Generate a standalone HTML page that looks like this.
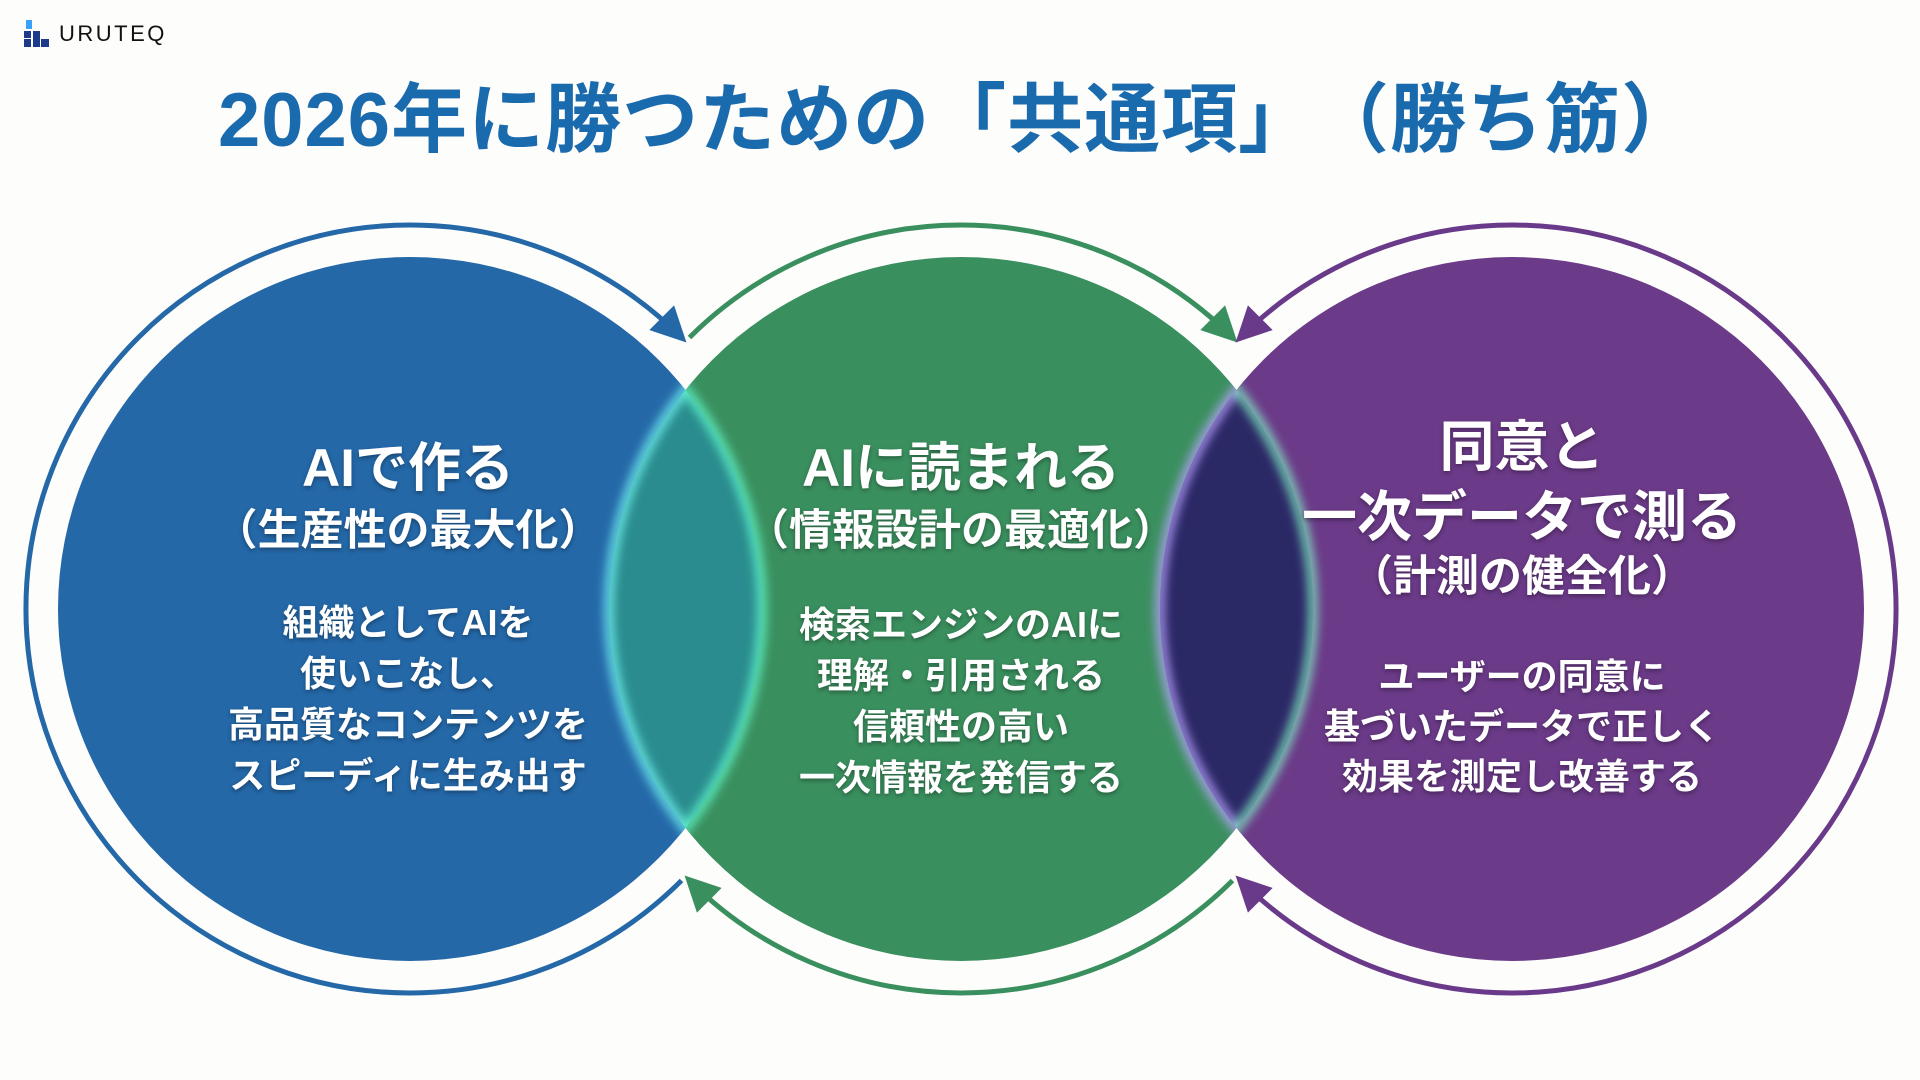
<!DOCTYPE html>
<html><head><meta charset="utf-8">
<style>
html,body{margin:0;padding:0;}
body{width:1920px;height:1080px;position:relative;overflow:hidden;background:#fdfdfc;font-family:"Liberation Sans","Noto Sans CJK JP",sans-serif;}
.t{position:absolute;left:0;width:100%;text-align:center;color:#fff;font-weight:bold;white-space:nowrap;text-shadow:0 2px 4px rgba(0,0,0,0.35);}
.col{position:absolute;top:0;width:600px;}
</style></head><body>
<svg width="1920" height="1080" style="position:absolute;left:0;top:0">
<defs>
<clipPath id="cb"><circle cx="410" cy="609" r="352"/></clipPath>
<clipPath id="cg"><circle cx="961" cy="609" r="352"/></clipPath>
<clipPath id="cp"><circle cx="1512" cy="609" r="352"/></clipPath>
<filter id="bl" x="-20%" y="-20%" width="140%" height="140%"><feGaussianBlur stdDeviation="5"/></filter>
<marker id="ab" viewBox="0 0 10 10" refX="8" refY="5" markerWidth="7" markerHeight="7" orient="auto-start-reverse" markerUnits="strokeWidth"><path d="M0,0 L10,5 L0,10 Z" fill="#2468a8"/></marker>
<marker id="ag" viewBox="0 0 10 10" refX="8" refY="5" markerWidth="7" markerHeight="7" orient="auto-start-reverse" markerUnits="strokeWidth"><path d="M0,0 L10,5 L0,10 Z" fill="#3a8f5e"/></marker>
<marker id="ap" viewBox="0 0 10 10" refX="8" refY="5" markerWidth="7" markerHeight="7" orient="auto-start-reverse" markerUnits="strokeWidth"><path d="M0,0 L10,5 L0,10 Z" fill="#6a3a8a"/></marker>
</defs>
<circle cx="410" cy="609" r="352" fill="#2468a8"/>
<circle cx="961" cy="609" r="352" fill="#3a8f5e"/>
<circle cx="1512" cy="609" r="352" fill="#6b3a88"/>
<g clip-path="url(#cb)"><circle cx="961" cy="609" r="352" fill="#2a8c8e"/>
<circle cx="961" cy="609" r="352" fill="none" stroke="#6ff0f0" stroke-width="8" filter="url(#bl)"/></g>
<g clip-path="url(#cg)"><circle cx="410" cy="609" r="352" fill="none" stroke="#5ff5c8" stroke-width="8" filter="url(#bl)"/></g>
<g clip-path="url(#cg)"><circle cx="1512" cy="609" r="352" fill="#2b2866"/>
<circle cx="1512" cy="609" r="352" fill="none" stroke="#b9a0ff" stroke-width="8" filter="url(#bl)"/></g>
<g clip-path="url(#cp)"><circle cx="961" cy="609" r="352" fill="none" stroke="#7fe8c0" stroke-width="8" filter="url(#bl)"/></g>
<path d="M681.5,880.5 A384,384 0 1 1 681.5,337.5" fill="none" stroke="#2468a8" stroke-width="5" marker-end="url(#ab)"/>
<path d="M689.5,337.5 A384,384 0 0 1 1232.5,337.5" fill="none" stroke="#3a8f5e" stroke-width="5" marker-end="url(#ag)"/>
<path d="M1232.5,880.5 A384,384 0 0 1 689.5,880.5" fill="none" stroke="#3a8f5e" stroke-width="5" marker-end="url(#ag)"/>
<path d="M1240.5,337.5 A384,384 0 1 1 1240.5,880.5" fill="none" stroke="#6a3a8a" stroke-width="5" marker-start="url(#ap)" marker-end="url(#ap)"/>
<rect x="26" y="20" width="6" height="9" fill="#3aa0ff"/>
<rect x="24" y="31" width="7" height="7" fill="#1b3a8c"/>
<rect x="24" y="39" width="7" height="8" fill="#1b3a8c"/>
<rect x="33" y="31" width="7" height="16" fill="#1b3a8c"/>
<rect x="41" y="39" width="8" height="8" fill="#1b3a8c"/>
</svg>
<div style="position:absolute;left:59px;top:21px;font-size:22px;letter-spacing:2.5px;color:#111;">URUTEQ</div>
<div style="position:absolute;left:218px;top:75px;font-size:76px;line-height:1.2;font-weight:bold;color:#1a6aae;white-space:nowrap;letter-spacing:1px;">2026年に勝つための「共通項」<span style="margin-left:36px">（勝ち筋）</span></div>

<div class="col" style="left:108px">
<div class="t" style="top:426px;font-size:53px">AIで作る</div>
<div class="t" style="top:496px;font-size:43px">（生産性の最大化）</div>
<div class="t" style="top:594px;font-size:36px">組織としてAIを</div>
<div class="t" style="top:645px;font-size:36px">使いこなし、</div>
<div class="t" style="top:696px;font-size:36px">高品質なコンテンツを</div>
<div class="t" style="top:747px;font-size:36px">スピーディに生み出す</div>
</div>
<div class="col" style="left:661px">
<div class="t" style="top:426px;font-size:53px">AIに読まれる</div>
<div class="t" style="top:496px;font-size:43px">（情報設計の最適化）</div>
<div class="t" style="top:596px;font-size:36px">検索エンジンのAIに</div>
<div class="t" style="top:647px;font-size:36px">理解・引用される</div>
<div class="t" style="top:698px;font-size:36px">信頼性の高い</div>
<div class="t" style="top:749px;font-size:36px">一次情報を発信する</div>
</div>
<div class="col" style="left:1222px">
<div class="t" style="top:402px;font-size:55px">同意と</div>
<div class="t" style="top:472px;font-size:55px">一次データで測る</div>
<div class="t" style="top:542px;font-size:43px">（計測の健全化）</div>
<div class="t" style="top:648px;font-size:36px">ユーザーの同意に</div>
<div class="t" style="top:698px;font-size:36px">基づいたデータで正しく</div>
<div class="t" style="top:748px;font-size:36px">効果を測定し改善する</div>
</div>
</body></html>
